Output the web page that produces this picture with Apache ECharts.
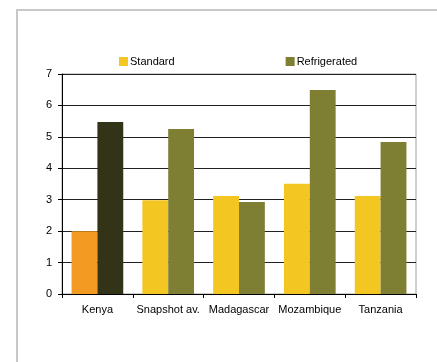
<!DOCTYPE html>
<html>
<head>
<meta charset="utf-8">
<script src="https://cdn.jsdelivr.net/npm/echarts@6/dist/echarts.min.js"></script>
<style>
  html, body { margin: 0; padding: 0; background: #fff; }
  #chart { width: 437px; height: 362px; }
</style>
</head>
<body>
<div id="chart"></div>
<script>
// Countries compared, with the snapshot average second
const categories = ['Kenya', 'Snapshot av.', 'Madagascar', 'Mozambique', 'Tanzania'];
const standardValues = [2.0, 2.98, 3.12, 3.51, 3.12];
const refrigeratedValues = [5.47, 5.25, 2.93, 6.49, 4.84];
const yTicks = [0, 1, 2, 3, 4, 5, 6, 7];

const STANDARD_COLOR = '#F4C622';
const REFRIG_COLOR = '#7F7F33';
// Kenya is highlighted with its own pair of colours
const KENYA_STANDARD = '#F39A22';
const KENYA_REFRIG = '#333318';

function withKenyaColor(values, kenyaColor) {
  return values.map((v, i) =>
    i === 0 ? { value: v, itemStyle: { color: kenyaColor } } : v);
}

const chart = echarts.init(document.getElementById('chart'));
const font = 'Liberation Sans, Arial, sans-serif';

chart.setOption({
  animation: false,
  backgroundColor: '#fff',
  textStyle: { fontFamily: font },
  graphic: [{
    type: 'rect',
    shape: { x: 17, y: 10, width: 460, height: 400 },
    style: { fill: 'none', stroke: '#c8c8c8', lineWidth: 2 },
    silent: true
  }],
  legend: {
    top: 51,
    left: 114,
    itemWidth: 9,
    itemHeight: 9,
    itemGap: 111,
    icon: 'rect',
    textStyle: { fontSize: 11, color: '#000', fontFamily: font, padding: [0, 0, 0, -3] },
    data: ['Standard', 'Refrigerated']
  },
  grid: {
    left: 62, right: 21, top: 74, bottom: 68,
    show: true, borderColor: '#a0a0a0', borderWidth: 1,
    containLabel: false
  },
  xAxis: {
    type: 'category',
    data: categories,
    axisLine: { lineStyle: { color: '#000', width: 1 } },
    axisTick: { show: true, length: 4, lineStyle: { color: '#000' }, alignWithLabel: false },
    axisLabel: { color: '#000', fontSize: 11, margin: 10, fontFamily: font, interval: 0 }
  },
  yAxis: {
    type: 'value',
    min: yTicks[0],
    max: yTicks[yTicks.length - 1],
    interval: 1,
    axisLine: { show: true, lineStyle: { color: '#000', width: 1 } },
    axisTick: { show: true, length: 4, lineStyle: { color: '#000' } },
    axisLabel: { color: '#000', fontSize: 11, margin: 10, fontFamily: font },
    splitLine: { show: true, lineStyle: { color: '#222', width: 1 } }
  },
  series: [
    {
      name: 'Standard',
      type: 'bar',
      data: withKenyaColor(standardValues, KENYA_STANDARD),
      itemStyle: { color: STANDARD_COLOR },
      barGap: '0%',
      barCategoryGap: '27%'
    },
    {
      name: 'Refrigerated',
      type: 'bar',
      data: withKenyaColor(refrigeratedValues, KENYA_REFRIG),
      itemStyle: { color: REFRIG_COLOR },
      barGap: '0%',
      barCategoryGap: '27%'
    }
  ]
});
</script>
</body>
</html>
